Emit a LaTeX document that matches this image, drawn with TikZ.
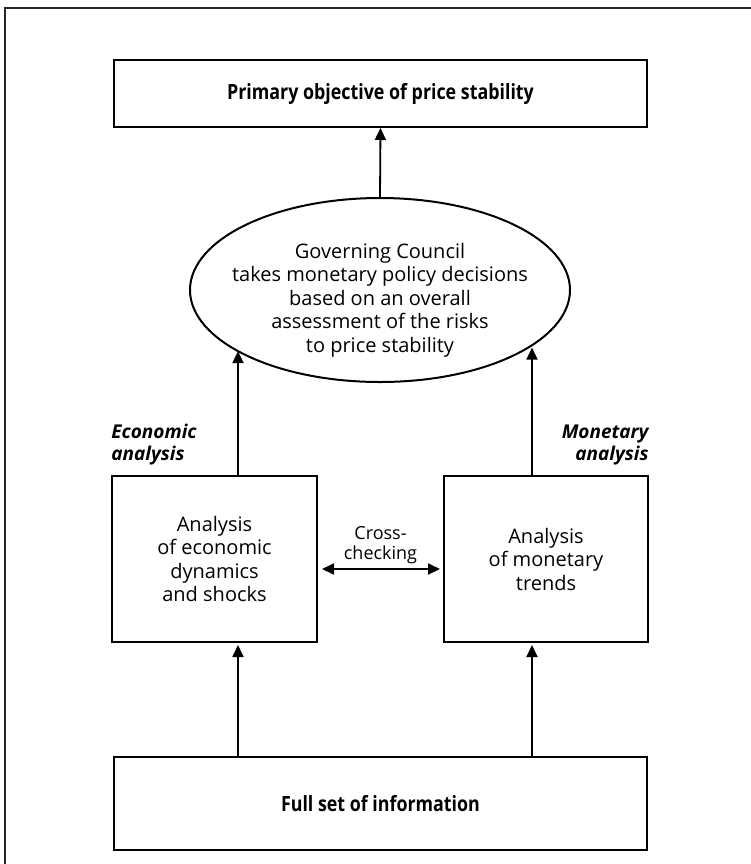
\documentclass[tikz,border=0pt]{standalone}
\usepackage{fontspec}
\setmainfont{Open Sans}
\newfontfamily\condfont[FakeStretch=0.85]{Open Sans}
\usetikzlibrary{positioning,calc,shapes.geometric,arrows.meta}

\begin{document}
\begin{tikzpicture}[x=0.5pt,y=-0.5pt,
		box/.style={draw, line width=1pt, inner sep=0pt, align=center, font=\fontsize{10}{11.75}\selectfont},
		head/.style={font=\fontsize{10.5}{12}\selectfont\condfont\bfseries},
		side/.style={inner sep=0pt, font=\fontsize{9.5}{11}\selectfont\bfseries\itshape},
		tip/.style={Triangle[length=6pt,width=5.5pt]},
		arr/.style={line width=0.9pt, -{Triangle[length=6pt,width=5.5pt]}},
		dblarr/.style={line width=0.9pt, {Triangle[length=6pt,width=5.5pt]}-{Triangle[length=6pt,width=5.5pt]}}]
			\useasboundingbox (0,0) rectangle (751,864);
			\draw[line width=0.75pt, black!85] (751,8) -- (5,8) -- (5,864);
			\coordinate (lx) at (238,0);
			\coordinate (rx) at (532,0);
			\coordinate (cy) at (0,569);
			% boxes
			\node[name=goal, box, head, minimum width=266.5pt, minimum height=33.5pt] at (380.5,93.5) {Primary objective of price stability};
			\node[name=gc, shape=ellipse, draw, line width=1pt, inner sep=0pt, minimum width=190pt, minimum height=92pt] at (380,290) {};
			\node[name=gctext, align=center, inner sep=0pt, font=\fontsize{10}{11.75}\selectfont] at ($(gc.center)+(0,10)$) {Governing Council\\takes monetary policy decisions\\based on an overall\\assessment of the risks\\to price stability};
			\node[name=eco, box, minimum width=102.5pt, minimum height=83pt] at (214.5,559) {Analysis\\of economic\\dynamics\\and shocks};
			\node[name=mon, box, minimum width=102pt, minimum height=83pt] at (546,559) {Analysis\\of monetary\\trends};
			\node[name=info, box, head, minimum width=266.5pt, minimum height=46.5pt] at (380.5,803.5) {Full set of information};
			\node[name=ecolabel, side, align=left, above right=5pt and 0pt of eco.north west] {Economic\\analysis};
			\node[name=monlabel, side, align=right, above left=5pt and 0pt of mon.north east] {Monetary\\analysis};
			% arrows
			\draw[arr] (gc.north) -- (goal.south);
			\draw[arr] (eco.north -| lx) -- (lx |- gc.203);
			\draw[arr] (mon.north -| rx) -- (rx |- gc.339);
			\draw[arr, shorten >=1pt] (info.north -| lx) -- (eco.south -| lx);
			\draw[arr, shorten >=1pt] (info.north -| rx) -- (mon.south -| rx);
			\draw[dblarr, shorten <=2pt, shorten >=1.5pt] (eco.east |- cy) -- node[name=cross, above=2pt, inner sep=0pt, align=center, font=\fontsize{9}{10}\selectfont] {Cross-\\checking} (mon.west |- cy);
		\end{tikzpicture}
\end{document}
